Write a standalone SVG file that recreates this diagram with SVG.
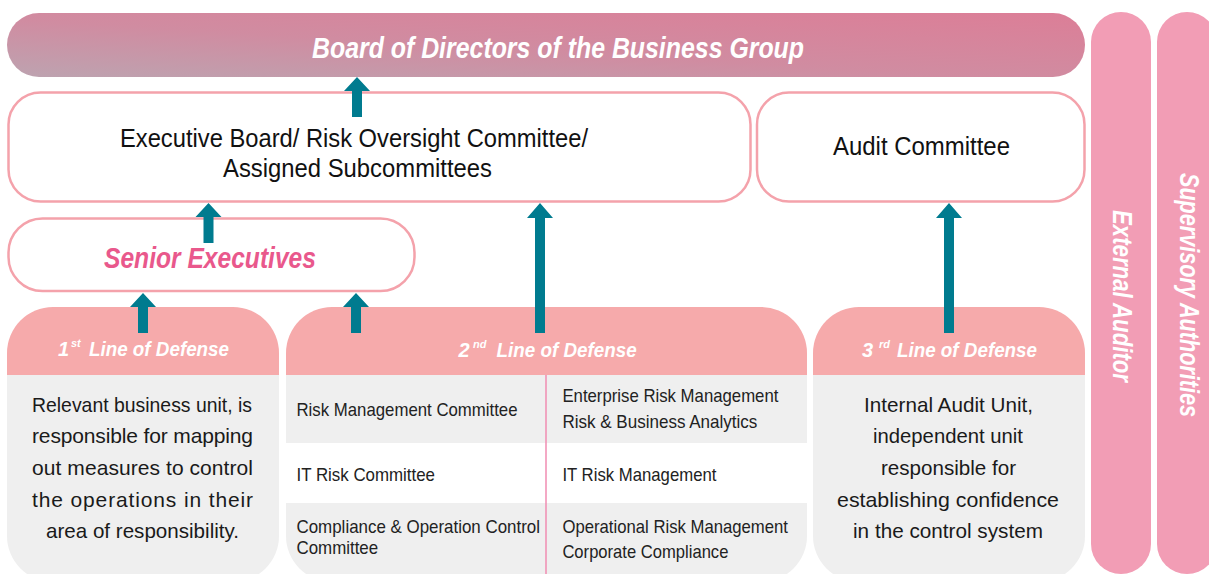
<svg xmlns="http://www.w3.org/2000/svg" width="1209" height="574" viewBox="0 0 1209 574">
<defs>
<linearGradient id="boardGrad" x1="0" y1="1" x2="1" y2="0">
<stop offset="0" stop-color="#bda3b0"/>
<stop offset="0.45" stop-color="#d08ca1"/>
<stop offset="1" stop-color="#dc7e97"/>
</linearGradient>
<clipPath id="clip1"><rect x="7" y="307" width="272" height="275" rx="46"/></clipPath>
<clipPath id="clip2"><rect x="286" y="307" width="521" height="275" rx="46"/></clipPath>
<clipPath id="clip3"><rect x="813" y="307" width="272" height="275" rx="46"/></clipPath>
<style>
text{font-family:"Liberation Sans Narrow","Liberation Sans",Arial,sans-serif}
.box{fill:#ffffff;stroke:#f4a2ab;stroke-width:2.5}
.hdr{fill:#f6aaab}
.body{fill:#efefef}
.bar{fill:#f29db5}
.wbi{fill:#ffffff;font-weight:bold;font-style:italic}
.dark{fill:#111111}
.tbl{fill:#222222;font-size:19px}
.bt{fill:#1a1a1a;font-size:21px}
.arrow{fill:#007b8f}
</style>
</defs>

<g id="board">
<rect x="7" y="13" width="1078" height="64" rx="32" fill="url(#boardGrad)"/>
<text class="wbi" x="312" y="58" font-size="29" textLength="492" lengthAdjust="spacingAndGlyphs">Board of Directors of the Business Group</text>
</g>

<g id="executive-board">
<rect class="box" x="8.5" y="92.5" width="742" height="109" rx="32"/>
<text class="dark" x="120" y="147" font-size="25" textLength="468" lengthAdjust="spacingAndGlyphs">Executive Board/ Risk Oversight Committee/</text>
<text class="dark" x="223" y="177" font-size="25" textLength="269" lengthAdjust="spacingAndGlyphs">Assigned Subcommittees</text>
</g>

<g id="audit-committee">
<rect class="box" x="757" y="92.5" width="327.5" height="109" rx="32"/>
<text class="dark" x="833" y="155" font-size="25" textLength="177" lengthAdjust="spacingAndGlyphs">Audit Committee</text>
</g>

<g id="senior-executives">
<rect class="box" x="8.5" y="218.5" width="406" height="72.5" rx="34"/>
<text x="104" y="268" font-size="30" font-weight="bold" font-style="italic" fill="#e9588c" textLength="212" lengthAdjust="spacingAndGlyphs">Senior Executives</text>
</g>

<g id="first-line">
<g clip-path="url(#clip1)">
<rect class="body" x="7" y="375" width="272" height="207"/>
<rect class="hdr" x="7" y="307" width="272" height="68"/>
</g>
<text class="wbi" y="356" font-size="20"><tspan x="58">1</tspan><tspan x="71" y="347" font-size="11">st</tspan><tspan x="89" y="356" textLength="140" lengthAdjust="spacingAndGlyphs">Line of Defense</tspan></text>
<text class="bt" x="32" y="412" textLength="220" lengthAdjust="spacingAndGlyphs">Relevant business unit, is</text>
<text class="bt" x="32" y="443" textLength="221" lengthAdjust="spacing">responsible for mapping</text>
<text class="bt" x="32" y="475" textLength="221" lengthAdjust="spacing">out measures to control</text>
<text class="bt" x="32" y="507" textLength="221" lengthAdjust="spacing">the operations in their</text>
<text class="bt" x="46" y="538" textLength="193" lengthAdjust="spacingAndGlyphs">area of responsibility.</text>
</g>

<g id="second-line">
<g clip-path="url(#clip2)">
<rect class="body" x="286" y="375" width="521" height="68"/>
<rect fill="#ffffff" x="286" y="443" width="521" height="60"/>
<rect class="body" x="286" y="503" width="521" height="79"/>
<rect class="hdr" x="286" y="307" width="521" height="68"/>
</g>
<line x1="546" y1="375" x2="546" y2="574" stroke="#f08db2" stroke-width="1.5"/>
<text class="wbi" y="357" font-size="20"><tspan x="458.6">2</tspan><tspan x="473" y="348" font-size="11">nd</tspan><tspan x="496.6" y="357" textLength="140" lengthAdjust="spacingAndGlyphs">Line of Defense</tspan></text>
<text class="tbl" x="296.5" y="416" textLength="221" lengthAdjust="spacingAndGlyphs">Risk Management Committee</text>
<text class="tbl" x="296.5" y="481" textLength="138.5" lengthAdjust="spacingAndGlyphs">IT Risk Committee</text>
<text class="tbl" x="296.5" y="533" textLength="243.5" lengthAdjust="spacingAndGlyphs">Compliance &amp; Operation Control</text>
<text class="tbl" x="296.5" y="554" textLength="81.6" lengthAdjust="spacingAndGlyphs">Committee</text>
<text class="tbl" x="562.4" y="402" textLength="216" lengthAdjust="spacingAndGlyphs">Enterprise Risk Management</text>
<text class="tbl" x="562.4" y="428" textLength="195" lengthAdjust="spacingAndGlyphs">Risk &amp; Business Analytics</text>
<text class="tbl" x="562.4" y="481" textLength="154" lengthAdjust="spacingAndGlyphs">IT Risk Management</text>
<text class="tbl" x="562.4" y="533" textLength="225.6" lengthAdjust="spacingAndGlyphs">Operational Risk Management</text>
<text class="tbl" x="562.4" y="558" textLength="166" lengthAdjust="spacingAndGlyphs">Corporate Compliance</text>
</g>

<g id="third-line">
<g clip-path="url(#clip3)">
<rect class="body" x="813" y="375" width="272" height="207"/>
<rect class="hdr" x="813" y="307" width="272" height="68"/>
</g>
<text class="wbi" y="357" font-size="20"><tspan x="862">3</tspan><tspan x="879" y="348" font-size="11">rd</tspan><tspan x="897" y="357" textLength="140" lengthAdjust="spacingAndGlyphs">Line of Defense</tspan></text>
<text class="bt" x="864" y="412" textLength="169" lengthAdjust="spacingAndGlyphs">Internal Audit Unit,</text>
<text class="bt" x="873" y="443" textLength="150" lengthAdjust="spacingAndGlyphs">independent unit</text>
<text class="bt" x="881" y="475" textLength="135" lengthAdjust="spacingAndGlyphs">responsible for</text>
<text class="bt" x="837" y="507" textLength="222" lengthAdjust="spacingAndGlyphs">establishing confidence</text>
<text class="bt" x="853" y="538" textLength="190" lengthAdjust="spacingAndGlyphs">in the control system</text>
</g>

<g id="external-auditor">
<rect class="bar" x="1091" y="12" width="60" height="562" rx="30"/>
<text class="wbi" transform="translate(1113 210) rotate(90)" x="0" y="0" font-size="28" textLength="172" lengthAdjust="spacingAndGlyphs">External Auditor</text>
</g>

<g id="supervisory-authorities">
<rect class="bar" x="1157" y="12" width="60" height="562" rx="30"/>
<text class="wbi" transform="translate(1180 173) rotate(90)" x="0" y="0" font-size="28" textLength="244" lengthAdjust="spacingAndGlyphs">Supervisory Authorities</text>
</g>

<g id="connectors">
<polygon class="arrow" points="357,77 370,91 362,91 362,117 352,117 352,91 344,91"/>
<polygon class="arrow" points="208.5,203 221.5,217 213.5,217 213.5,243 203.5,243 203.5,217 195.5,217"/>
<polygon class="arrow" points="143,293 156,307 148,307 148,333 138,333 138,307 130,307"/>
<polygon class="arrow" points="356,293 369,307 361,307 361,333 351,333 351,307 343,307"/>
<polygon class="arrow" points="540,203 553,218 545,218 545,333 535,333 535,218 527,218"/>
<polygon class="arrow" points="949,203 962,218 954,218 954,333 944,333 944,218 936,218"/>
</g>
</svg>
